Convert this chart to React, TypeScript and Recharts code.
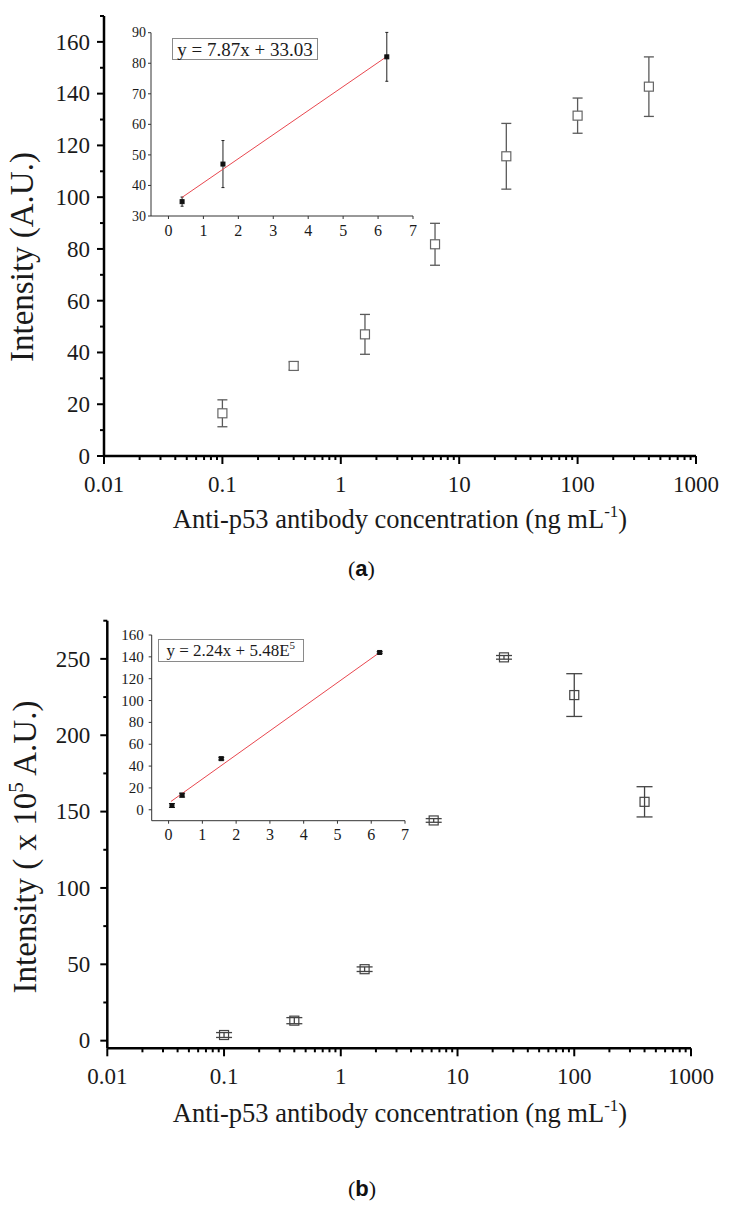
import React from "react";
import { ScatterChart, Scatter, XAxis, YAxis, ErrorBar, Label } from "recharts";

// panel (a): full concentration range, log x axis
const concentrations = [0.1, 0.4, 1.6, 6.25, 25, 100, 400];
const intensityA = [16.5, 34.8, 47.0, 81.8, 115.8, 131.5, 142.7];
const errorA = [5.2, 1.6, 7.7, 8.1, 12.7, 6.8, 11.5];

// panel (b)
const intensityB = [3.7, 13.1, 46.8, 144.2, 251.0, 226.3, 156.4];
const errorB = [1.6, 2.0, 1.5, 1.2, 1.2, 14.0, 9.9];

// insets: linear range + fitted line
const insetConcA = [0.39, 1.56, 6.25];
const insetIntA = [34.7, 47.0, 82.1];
const insetErrA = [1.5, 7.7, 8.0];
const fitConcA = [0.39, 6.25];
const fitIntA = [36.1, 82.2];

const insetConcB = [0.1, 0.4, 1.56, 6.25];
const insetIntB = [3.9, 13.4, 46.8, 144.0];
const insetErrB = [1.8, 1.8, 1.2, 0.8];
const fitConcB = [0.07, 6.25];
const fitIntB = [7.6, 144.0];

// ticks
const logMajors = [0.01, 0.1, 1, 10, 100, 1000];
const logMinorSteps = [2, 3, 4, 5, 6, 7, 8, 9];
const yMajorsA = [0, 20, 40, 60, 80, 100, 120, 140, 160];
const yMinorsA = [10, 30, 50, 70, 90, 110, 130, 150, 170];
const yMajorsB = [0, 50, 100, 150, 200, 250];
const yMinorsB = [25, 75, 125, 175, 225, 275];
const insetXTicks = [0, 1, 2, 3, 4, 5, 6, 7];
const insetYTicksA = [30, 40, 50, 60, 70, 80, 90];
const insetYTicksB = [0, 20, 40, 60, 80, 100, 120, 140, 160];

const SERIF = "'Liberation Serif', 'Times New Roman', serif";
const RED = "#e8474f";
const serifStyle: React.CSSProperties = { fontFamily: SERIF };

const logTicks = [
  ...logMajors,
  ...logMajors.slice(0, -1).flatMap((d) => logMinorSteps.map((m) => +(d * m).toPrecision(3))),
].sort((a, b) => a - b);

type Pt = { x: number; y: number; err: number };
const zip = (xs: number[], ys: number[], es?: number[]): Pt[] =>
  xs.map((x, i) => ({ x, y: ys[i], err: es ? es[i] : 0 }));

type TickOpts = {
  majors: number[];
  majorLen: number;
  minorLen: number;
  fontSize: number;
  gap: number;
  color: string;
  width: number;
};

const bottomTick = (o: TickOpts) => (p: any) => {
  const v = p.payload.value;
  const major = o.majors.includes(v);
  return (
    <g>
      <line x1={p.x} x2={p.x} y1={p.y} y2={p.y + (major ? o.majorLen : o.minorLen)} stroke={o.color} strokeWidth={o.width} />
      {major && (
        <text x={p.x} y={p.y + o.gap} textAnchor="middle" fontSize={o.fontSize} style={serifStyle} fill="#1a1a1a">
          {String(v)}
        </text>
      )}
    </g>
  );
};

const leftTick = (o: TickOpts) => (p: any) => {
  const v = p.payload.value;
  const major = o.majors.includes(v);
  return (
    <g>
      <line x1={p.x} x2={p.x - (major ? o.majorLen : o.minorLen)} y1={p.y} y2={p.y} stroke={o.color} strokeWidth={o.width} />
      {major && (
        <text x={p.x - o.gap} y={p.y} dy="0.34em" textAnchor="end" fontSize={o.fontSize} style={serifStyle} fill="#1a1a1a">
          {String(v)}
        </text>
      )}
    </g>
  );
};

const square = (size: number, stroke: string, fill: string, sw: number) => (p: any) => (
  <rect x={p.cx - size / 2} y={p.cy - size / 2} width={size} height={size} stroke={stroke} fill={fill} strokeWidth={sw} />
);

type MainProps = {
  top: number;
  height: number;
  plot: { left: number; top: number; right: number; bottom: number };
  yDomain: [number, number];
  yMajors: number[];
  yMinors: number[];
  data: Pt[];
  markerStroke: string;
  markerFill: string;
  errStroke: string;
  capHalf: number;
  yGap: number;
  yTitle: React.ReactNode;
  yTitlePos: [number, number];
  xTitleY: number;
};

function MainChart(p: MainProps) {
  return (
    <div style={{ position: "absolute", left: 0, top: p.top }}>
      <ScatterChart
        width={733}
        height={p.height}
        margin={{ top: p.plot.top - p.top, right: 733 - p.plot.right, bottom: 0, left: 0 }}
      >
        <XAxis
          type="number"
          dataKey="x"
          scale="log"
          domain={[0.01, 1000]}
          allowDataOverflow
          ticks={logTicks}
          interval={0}
          tickSize={0}
          tickMargin={0}
          tickLine={false}
          axisLine={{ stroke: "#000", strokeWidth: 2.5 }}
          height={p.top + p.height - p.plot.bottom}
          tick={bottomTick({ majors: logMajors, majorLen: 8, minorLen: 4, fontSize: 23, gap: 36, color: "#000", width: 2 })}
        >
          <Label
            content={() => (
              <text x={400} y={p.xTitleY - p.top} textAnchor="middle" fontSize={26.5} style={serifStyle} fill="#1a1a1a">
                Anti-p53 antibody concentration (ng mL
                <tspan dy={-11} fontSize={17}>-1</tspan>
                <tspan dy={11}>)</tspan>
              </text>
            )}
          />
        </XAxis>
        <YAxis
          type="number"
          dataKey="y"
          domain={p.yDomain}
          allowDataOverflow
          ticks={[...p.yMajors, ...p.yMinors].sort((a, b) => a - b)}
          interval={0}
          tickSize={0}
          tickMargin={0}
          tickLine={false}
          axisLine={{ stroke: "#000", strokeWidth: 2.5 }}
          width={p.plot.left}
          tick={leftTick({ majors: p.yMajors, majorLen: 7, minorLen: 4, fontSize: 23, gap: p.yGap, color: "#000", width: 2 })}
        >
          <Label
            content={() => (
              <text
                transform={`translate(${p.yTitlePos[0]},${p.yTitlePos[1] - p.top}) rotate(-90)`}
                textAnchor="middle"
                fontSize={33}
                style={serifStyle}
                fill="#1a1a1a"
              >
                {p.yTitle}
              </text>
            )}
          />
        </YAxis>
        <Scatter data={p.data} isAnimationActive={false} shape={square(9, p.markerStroke, p.markerFill, 1.2)}>
          <ErrorBar dataKey="err" direction="y" width={p.capHalf} stroke={p.errStroke} strokeWidth={1.3} />
        </Scatter>
      </ScatterChart>
    </div>
  );
}

type InsetProps = {
  top: number;
  height: number;
  plot: { left: number; top: number; right: number; bottom: number };
  yDomain: [number, number];
  yTicks: number[];
  data: Pt[];
  fit: Pt[];
  capHalf: number;
  xFont: number;
  yFont: number;
  xGap: number;
  yGap: number;
};

function InsetChart(p: InsetProps) {
  return (
    <div style={{ position: "absolute", left: 0, top: p.top }}>
      <ScatterChart
        width={733}
        height={p.height}
        margin={{ top: p.plot.top - p.top, right: 733 - p.plot.right, bottom: 0, left: 0 }}
      >
        <XAxis
          type="number"
          dataKey="x"
          domain={[-0.5, 7]}
          allowDataOverflow
          ticks={insetXTicks}
          interval={0}
          tickSize={0}
          tickMargin={0}
          tickLine={false}
          axisLine={{ stroke: "#333", strokeWidth: 1 }}
          height={p.top + p.height - p.plot.bottom}
          tick={bottomTick({ majors: insetXTicks, majorLen: 3, minorLen: 3, fontSize: p.xFont, gap: p.xGap, color: "#333", width: 1 })}
        />
        <YAxis
          type="number"
          dataKey="y"
          domain={p.yDomain}
          allowDataOverflow
          ticks={p.yTicks}
          interval={0}
          tickSize={0}
          tickMargin={0}
          tickLine={false}
          axisLine={{ stroke: "#333", strokeWidth: 1 }}
          width={p.plot.left}
          tick={leftTick({ majors: p.yTicks, majorLen: 3, minorLen: 3, fontSize: p.yFont, gap: p.yGap, color: "#333", width: 1 })}
        />
        <Scatter
          data={p.fit}
          isAnimationActive={false}
          line={{ stroke: RED, strokeWidth: 1 }}
          shape={() => <g />}
        />
        <Scatter data={p.data} isAnimationActive={false} shape={square(4, "#111", "#111", 1)}>
          <ErrorBar dataKey="err" direction="y" width={p.capHalf} stroke="#222" strokeWidth={1} />
        </Scatter>
      </ScatterChart>
    </div>
  );
}

const boxStyle: React.CSSProperties = {
  position: "absolute",
  border: "1px solid #8a8a8a",
  boxSizing: "border-box",
  fontFamily: SERIF,
  color: "#1a1a1a",
  textAlign: "center",
  whiteSpace: "nowrap",
  background: "#fff",
};

const captionStyle: React.CSSProperties = {
  position: "absolute",
  fontFamily: SERIF,
  fontSize: 22,
  lineHeight: 1,
  color: "#111",
};

export default function App() {
  return (
    <div style={{ position: "absolute", left: 0, top: 0, width: 733, height: 1214, background: "#fff" }}>
      <MainChart
        top={0}
        height={600}
        plot={{ left: 104, top: 16, right: 696, bottom: 456 }}
        yDomain={[0, 170]}
        yMajors={yMajorsA}
        yMinors={yMinorsA}
        data={zip(concentrations, intensityA, errorA)}
        markerStroke="#666"
        markerFill="#fff"
        errStroke="#5a5a5a"
        capHalf={5}
        yGap={14}
        yTitle="Intensity (A.U.)"
        yTitlePos={[33, 257]}
        xTitleY={528}
      />
      <InsetChart
        top={0}
        height={260}
        plot={{ left: 151, top: 32.7, right: 413, bottom: 216 }}
        yDomain={[30, 90]}
        yTicks={insetYTicksA}
        data={zip(insetConcA, insetIntA, insetErrA)}
        fit={zip(fitConcA, fitIntA)}
        capHalf={1.5}
        xFont={16}
        yFont={14}
        xGap={20}
        yGap={5}
      />
      <div style={{ ...boxStyle, left: 172, top: 37.7, width: 146, height: 22.5, fontSize: 19, lineHeight: "21px" }}>
        y = 7.87x + 33.03
      </div>
      <div style={{ ...captionStyle, left: 348, top: 558 }}>
        (<b style={{ fontFamily: "'Liberation Sans', sans-serif" }}>a</b>)
      </div>

      <MainChart
        top={600}
        height={614}
        plot={{ left: 107.3, top: 620.7, right: 691, bottom: 1048.3 }}
        yDomain={[-5, 275]}
        yMajors={yMajorsB}
        yMinors={yMinorsB}
        data={zip(concentrations, intensityB, errorB)}
        markerStroke="#444"
        markerFill="none"
        errStroke="#444"
        capHalf={8}
        yGap={17}
        yTitle={
          <>
            Intensity ( x 10<tspan dy={-13} fontSize={21}>5</tspan>
            <tspan dy={13}> A.U.)</tspan>
          </>
        }
        yTitlePos={[36, 847]}
        xTitleY={1121.7}
      />
      <InsetChart
        top={600}
        height={260}
        plot={{ left: 151.7, top: 635, right: 405, bottom: 820.7 }}
        yDomain={[-10, 160]}
        yTicks={insetYTicksB}
        data={zip(insetConcB, insetIntB, insetErrB)}
        fit={zip(fitConcB, fitIntB)}
        capHalf={3}
        xFont={16}
        yFont={15}
        xGap={19}
        yGap={8}
      />
      <div style={{ ...boxStyle, left: 158, top: 639, width: 145.5, height: 22.7, fontSize: 17, lineHeight: "21px" }}>
        y = 2.24x + 5.48E<sup style={{ fontSize: 11, verticalAlign: 0, position: "relative", top: -7 }}>5</sup>
      </div>
      <div style={{ ...captionStyle, left: 348, top: 1178 }}>
        (<b style={{ fontFamily: "'Liberation Sans', sans-serif" }}>b</b>)
      </div>
    </div>
  );
}
